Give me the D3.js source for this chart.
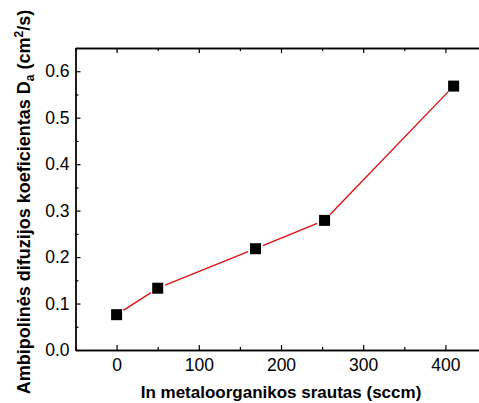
<!DOCTYPE html>
<html>
<head>
<meta charset="utf-8">
<script src="https://cdn.jsdelivr.net/npm/d3@7"></script>
<style>
  body { margin: 0; background: #fff; }
  text { font-family: "Liberation Sans", Arial, sans-serif; }
</style>
</head>
<body>
<div id="chart"></div>
<script>
// data
const flow = [0, 50, 169, 253, 410];               // sccm
const diffusion = [0.076, 0.133, 0.218, 0.279, 0.568]; // cm^2/s
const xTicks = [0, 100, 200, 300, 400];
const xMinorTicks = [-50, 50, 150, 250, 350, 450];
const yTicks = [0, 0.1, 0.2, 0.3, 0.4, 0.5, 0.6];
const yMinorTicks = [0.05, 0.15, 0.25, 0.35, 0.45, 0.55, 0.65];

const svgWidth = 479, svgHeight = 403;
const margin = { top: 48, left: 75.5 };
const width = 411;   // plot runs past the right edge, like the original crop
const height = 302;

const svg = d3.select("#chart")
  .append("svg")
  .attr("width", svgWidth)
  .attr("height", svgHeight)
  .append("g")
  .attr("transform", `translate(${margin.left},${margin.top})`);

const x = d3.scaleLinear().domain([-50, 450]).range([0, width]);
const y = d3.scaleLinear().domain([0, 0.65]).range([height, 0]);

const styleAxis = g => {
  g.selectAll("path.domain").attr("stroke", "#000").attr("stroke-width", 1.3);
  g.selectAll(".tick line").attr("stroke", "#000").attr("stroke-width", 1.2);
  g.selectAll(".tick text").attr("fill", "#000").style("font-size", "17.5px");
};

// bottom
svg.append("g")
  .attr("transform", `translate(0,${height})`)
  .call(d3.axisBottom(x).tickValues(xTicks).tickSizeInner(-5).tickSizeOuter(0).tickPadding(9))
  .call(styleAxis);
svg.append("g")
  .attr("transform", `translate(0,${height})`)
  .call(d3.axisBottom(x).tickValues(xMinorTicks).tickSizeInner(-3).tickSizeOuter(0).tickFormat(""))
  .call(styleAxis);

// top
svg.append("g")
  .call(d3.axisTop(x).tickValues(xTicks).tickSizeInner(-5).tickSizeOuter(0).tickFormat(""))
  .call(styleAxis);
svg.append("g")
  .call(d3.axisTop(x).tickValues(xMinorTicks).tickSizeInner(-3).tickSizeOuter(0).tickFormat(""))
  .call(styleAxis);

// left
svg.append("g")
  .call(d3.axisLeft(y).tickValues(yTicks).tickSizeInner(-5).tickSizeOuter(0).tickPadding(6).tickFormat(d3.format(".1f")))
  .call(styleAxis);
svg.append("g")
  .call(d3.axisLeft(y).tickValues(yMinorTicks).tickSizeInner(-3).tickSizeOuter(0).tickFormat(""))
  .call(styleAxis);

// axis titles
svg.append("text")
  .attr("x", width / 2)
  .attr("y", height + 48)
  .attr("text-anchor", "middle")
  .style("font-size", "17px")
  .style("font-weight", "bold")
  .text("In metaloorganikos srautas (sccm)");

const yTitle = svg.append("text")
  .attr("transform", `translate(${-46},${height / 2 + 3}) rotate(-90)`)
  .attr("text-anchor", "middle")
  .style("font-size", "18px")
  .style("font-weight", "bold");
yTitle.append("tspan").text("Ambipolinės difuzijos koeficientas D");
yTitle.append("tspan").attr("dy", 4).style("font-size", "12px").text("a");
yTitle.append("tspan").attr("dy", -4).text(" (cm");
yTitle.append("tspan").attr("dy", -7).style("font-size", "12px").text("2");
yTitle.append("tspan").attr("dy", 7).text("/s)");

// connecting line, with small gaps at the markers
const pts = flow.map((f, i) => [x(f), y(diffusion[i])]);
const gap = 8;
const segs = d3.pairs(pts).map(([a, b]) => {
  const dx = b[0] - a[0], dy = b[1] - a[1];
  const len = Math.hypot(dx, dy);
  const ux = dx / len, uy = dy / len;
  return [a[0] + ux * gap, a[1] + uy * gap, b[0] - ux * gap, b[1] - uy * gap];
});

svg.selectAll(".seg")
  .data(segs)
  .enter()
  .append("line")
  .attr("class", "seg")
  .attr("x1", d => d[0])
  .attr("y1", d => d[1])
  .attr("x2", d => d[2])
  .attr("y2", d => d[3])
  .attr("stroke", "#dd1111")
  .attr("stroke-width", 1.4);

const size = 11;
svg.selectAll(".marker")
  .data(flow)
  .enter()
  .append("rect")
  .attr("class", "marker")
  .attr("x", d => x(d) - size / 2)
  .attr("y", (d, i) => y(diffusion[i]) - size / 2)
  .attr("width", size)
  .attr("height", size)
  .attr("fill", "#000");
</script>
</body>
</html>
